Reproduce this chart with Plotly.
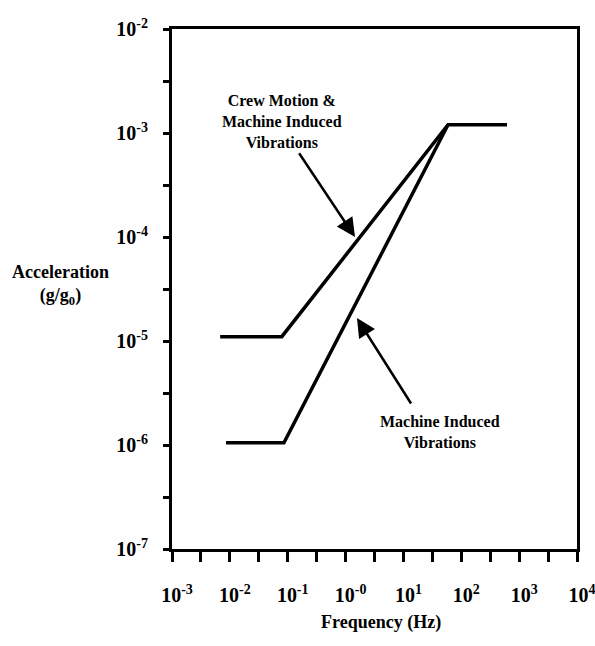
import plotly.graph_objects as go

# Data
freq_crew = [0.0068, 0.079, 59, 617]
acc_crew = [1.1e-5, 1.1e-5, 1.2e-3, 1.2e-3]
freq_machine = [0.0086, 0.086, 59]
acc_machine = [1.05e-6, 1.05e-6, 1.2e-3]

x_exps = [-3, -2, -1, 0, 1, 2, 3, 4]
x_sup = ["-3", "-2", "-1", "-0", "1", "2", "3", "4"]
y_exps = [-7, -6, -5, -4, -3, -2]
y_sup = ["-7", "-6", "-5", "-4", "-3", "-2"]

font_fam = "Liberation Serif, Times New Roman, serif"

def ticks(exps, sups, pad):
    vals, txt = [], []
    for i, e in enumerate(exps):
        vals.append(10 ** e)
        txt.append(pad + "10<sup>" + sups[i] + "</sup>")
        if i < len(exps) - 1:
            vals.append(10 ** (e + 0.5))
            txt.append("")
    return vals, txt

xv, xt = ticks(x_exps, x_sup, "&nbsp;&nbsp;")
yv, yt = ticks(y_exps, y_sup, "")

fig = go.Figure()
fig.add_trace(go.Scatter(x=freq_crew, y=acc_crew, mode="lines",
                         line=dict(color="black", width=3.5), showlegend=False))
fig.add_trace(go.Scatter(x=freq_machine, y=acc_machine, mode="lines",
                         line=dict(color="black", width=3.5), showlegend=False))

fig.update_layout(
    width=595, height=646,
    margin=dict(l=172, r=18, t=29, b=97),
    paper_bgcolor="white", plot_bgcolor="white",
    font=dict(family=font_fam, color="black"),
    xaxis=dict(type="log", range=[-3, 4], tickvals=xv, ticktext=xt,
               ticks="outside", ticklen=10, tickwidth=2.5, tickcolor="black",
               showline=True, linecolor="black", linewidth=3, mirror=True,
               showgrid=False, zeroline=False, automargin=False,
               tickfont=dict(size=20, family=font_fam, weight="bold"),
               ticklabelstandoff=16, ticklabeloverflow="allow"),
    yaxis=dict(type="log", range=[-7, -2], tickvals=yv, ticktext=yt,
               ticks="outside", ticklen=6, tickwidth=2.5, tickcolor="black",
               showline=True, linecolor="black", linewidth=3, mirror=True,
               showgrid=False, zeroline=False, automargin=False,
               tickfont=dict(size=20, family=font_fam, weight="bold"),
               ticklabelstandoff=11),
)

ann_font = dict(size=16, family=font_fam, color="black", weight="bold")

fig.add_annotation(x=-1.099, y=-2.894, xref="x", yref="y",
                   text="Crew Motion &<br>Machine Induced<br>Vibrations",
                   showarrow=False, font=ann_font, align="center",
                   xanchor="center", yanchor="middle")
fig.add_annotation(x=1.632, y=-5.875, xref="x", yref="y",
                   text="Machine Induced<br>Vibrations",
                   showarrow=False, font=ann_font, align="center",
                   xanchor="center", yanchor="middle")

# arrows
fig.add_annotation(x=0.163, y=-4.0, ax=-0.82, ay=-3.18, xref="x", yref="y",
                   axref="x", ayref="y", text="", showarrow=True,
                   arrowhead=2, arrowsize=1.5, arrowwidth=2.5, arrowcolor="black")
fig.add_annotation(x=0.197, y=-4.78, ax=1.148, ay=-5.615, xref="x", yref="y",
                   axref="x", ayref="y", text="", showarrow=True,
                   arrowhead=2, arrowsize=1.5, arrowwidth=2.5, arrowcolor="black")

# axis titles
fig.add_annotation(x=-0.2765, y=0.508, xref="paper", yref="paper",
                   text="Acceleration<br>(g/g<sub>0</sub>)", showarrow=False,
                   font=dict(size=18, family=font_fam, color="black", weight="bold"),
                   align="center", xanchor="center", yanchor="middle")
fig.add_annotation(x=0.516, y=-0.142, xref="paper", yref="paper",
                   text="Frequency (Hz)", showarrow=False,
                   font=dict(size=18, family=font_fam, color="black", weight="bold"),
                   xanchor="center", yanchor="middle")

fig.write_html("out.html")
